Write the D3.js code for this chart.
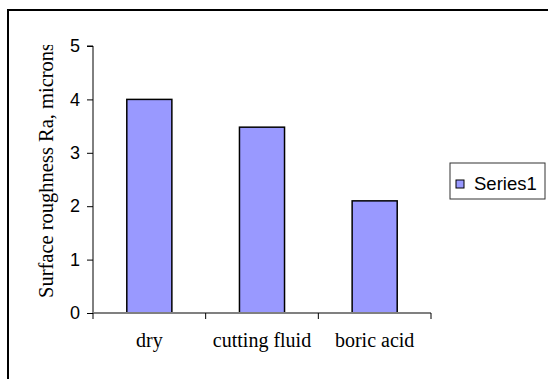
<!DOCTYPE html>
<html>
<head>
<meta charset="utf-8">
<script src="https://cdn.jsdelivr.net/npm/d3@7"></script>
<style>
  body { margin: 0; background: #fff; }
  svg { display: block; }
</style>
</head>
<body>
<div id="chart"></div>
<script>
// chart data
const categories = ["dry", "cutting fluid", "boric acid"];
const values = [4.0, 3.48, 2.1];
const yTicks = [0, 1, 2, 3, 4, 5];
const seriesName = "Series1";
const yLabel = "Surface roughness Ra, microns";

const W = 548, H = 379;
const margin = { top: 46, left: 93, right: 117, bottom: 66 };
const width = W - margin.left - margin.right;
const height = H - margin.top - margin.bottom;

const svg = d3.select("#chart").append("svg")
    .attr("width", W)
    .attr("height", H);

// outer frame, runs off the right and bottom edges
svg.append("rect")
    .attr("x", 8).attr("y", 10)
    .attr("width", W).attr("height", H)
    .attr("fill", "none")
    .attr("stroke", "#000")
    .attr("stroke-width", 2);

const g = svg.append("g")
    .attr("transform", "translate(" + margin.left + "," + margin.top + ")");

const x = d3.scaleBand()
    .domain(categories)
    .range([0, width])
    .paddingInner(0.6)
    .paddingOuter(0.3);

const xCat = d3.scaleBand()
    .domain(categories)
    .range([0, width]);

const y = d3.scaleLinear()
    .domain([0, 5])
    .range([height, 0]);

// y axis
const yAxis = g.append("g")
    .call(d3.axisLeft(y).tickValues(yTicks).tickSize(6).tickPadding(7).tickFormat(d3.format("d")));
yAxis.select(".domain").attr("stroke", "#000").attr("d", "M0," + height + "V0H-6");
yAxis.selectAll("text")
    .attr("font-family", "Liberation Sans, Arial, sans-serif")
    .attr("font-size", 18)
    .attr("fill", "#000");

// bars
g.selectAll(".bar")
    .data(values)
    .enter().append("rect")
    .attr("class", "bar")
    .attr("x", (d, i) => x(categories[i]))
    .attr("y", d => y(d))
    .attr("width", x.bandwidth())
    .attr("height", d => height - y(d))
    .attr("fill", "#9999ff")
    .attr("stroke", "#000")
    .attr("stroke-width", 1.5);

// x axis (category boundaries as ticks)
const xb = g.append("g").attr("transform", "translate(0," + height + ")");
xb.append("line")
    .attr("x1", 0).attr("x2", width)
    .attr("stroke", "#808080").attr("stroke-width", 2);
const bounds = categories.map(c => xCat(c)).concat([width]);
xb.selectAll(".tk")
    .data(bounds)
    .enter().append("line")
    .attr("x1", d => d).attr("x2", d => d)
    .attr("y1", 0).attr("y2", 6)
    .attr("stroke", "#000");
xb.selectAll(".lbl")
    .data(categories)
    .enter().append("text")
    .attr("x", d => xCat(d) + xCat.bandwidth() / 2)
    .attr("y", 34)
    .attr("text-anchor", "middle")
    .attr("font-family", "Liberation Serif, Times New Roman, serif")
    .attr("font-size", 20)
    .text(d => d);

// y axis title
svg.append("text")
    .attr("transform", "translate(53," + (margin.top + height - 15) + ") rotate(-90)")
    .attr("font-family", "Liberation Serif, Times New Roman, serif")
    .attr("font-size", 20.5)
    .text(yLabel);
// white out the part that the original crops
svg.append("rect")
    .attr("x", 30).attr("y", 12)
    .attr("width", 30).attr("height", 33)
    .attr("fill", "#fff");

// legend
const lg = svg.append("g").attr("transform", "translate(450,163)");
lg.append("rect")
    .attr("width", 95).attr("height", 36)
    .attr("fill", "#fff").attr("stroke", "#333").attr("stroke-width", 1);
lg.append("rect")
    .attr("x", 6).attr("y", 17)
    .attr("width", 8).attr("height", 8)
    .attr("fill", "#9999ff").attr("stroke", "#000").attr("stroke-width", 1);
lg.append("text")
    .attr("x", 24).attr("y", 27)
    .attr("font-family", "Liberation Sans, Arial, sans-serif")
    .attr("font-size", 18.5)
    .text(seriesName);
</script>
</body>
</html>
